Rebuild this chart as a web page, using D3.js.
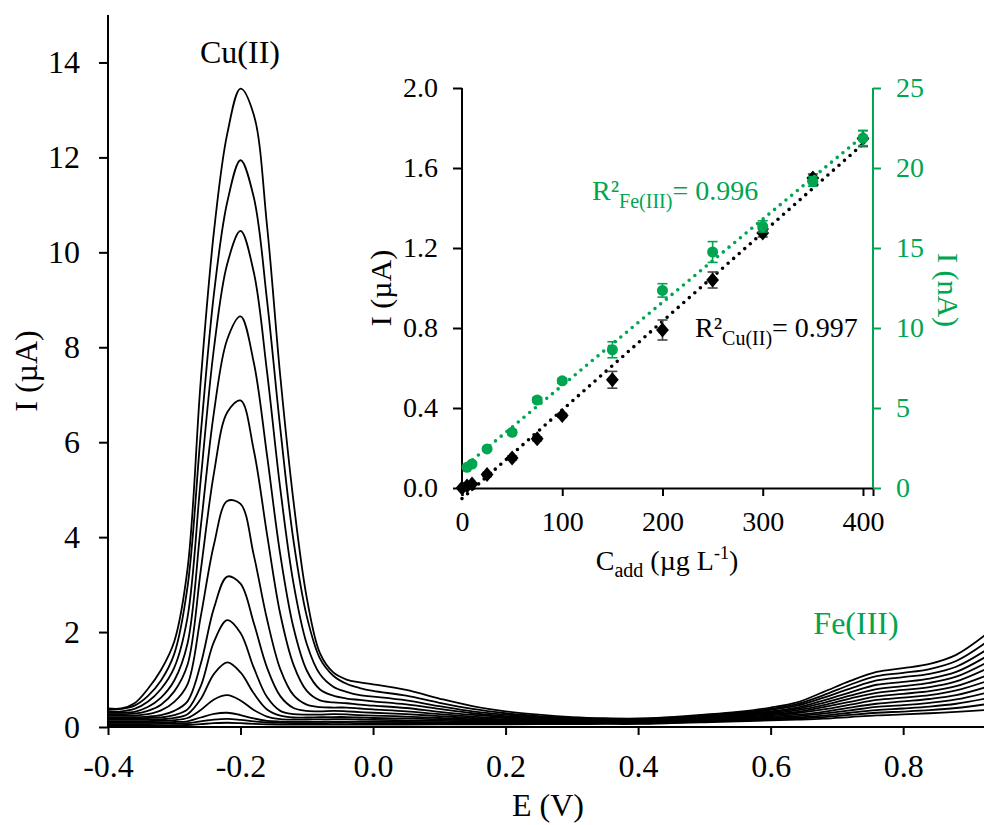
<!DOCTYPE html>
<html>
<head>
<meta charset="utf-8">
<script src="https://cdn.jsdelivr.net/npm/d3@7"></script>
<style>
  body { margin: 0; background: #fff; }
  svg { display: block; font-family: "Liberation Serif", "Times New Roman", serif; }
  .axis path, .axis line { stroke: #000; stroke-width: 2; }
  .axis text { fill: #000; }
  .green path, .green line { stroke: #00a551; }
  .green text { fill: #00a551; }
</style>
</head>
<body>
<svg id="chart" width="984" height="825"></svg>
<script>
// potential grid (V) shared by all scans
const E = [-0.40, -0.38, -0.36, -0.34, -0.32, -0.30, -0.28, -0.26, -0.24, -0.22, -0.20,
  -0.18, -0.16, -0.14, -0.12, -0.10, -0.08, -0.06, -0.04, -0.02, 0.00,
  0.05, 0.10, 0.15, 0.20, 0.25, 0.30, 0.35, 0.40,
  0.45, 0.50, 0.55, 0.60, 0.64, 0.68, 0.72, 0.76, 0.80, 0.84, 0.88, 0.925];

// current (uA), one array per standard addition, highest first
const scan13 = [.39, .39, .50, .80, 1.20, 1.80, 3.33, 7.30, 10.45, 12.50, 13.45, 12.90, 10.56, 7.39, 4.75, 2.72, 1.55, 1.15, 1.00, .94, .90,
  .78, .60, .44, .33, .26, .21, .185, .18, .21, .26, .32, .41, .52, .74, .97, 1.16, 1.24, 1.33, 1.52, 1.95];
const scan12 = [.36, .38, .45, .65, .98, 1.54, 2.95, 6.18, 9.14, 11.06, 11.94, 11.16, 8.99, 6.29, 3.92, 2.33, 1.44, 1.08, .91, .82, .76,
  .66, .51, .38, .29, .23, .19, .17, .17, .20, .245, .30, .38, .48, .67, .89, 1.07, 1.14, 1.22, 1.39, 1.78];
const scan11 = [.33, .33, .38, .53, .80, 1.25, 2.31, 5.22, 7.99, 9.76, 10.45, 9.58, 7.48, 5.02, 3.02, 1.75, 1.11, .85, .74, .67, .64,
  .56, .44, .33, .26, .21, .17, .16, .16, .19, .23, .285, .36, .45, .62, .81, .98, 1.05, 1.12, 1.27, 1.62];
const scan10 = [.30, .30, .32, .42, .62, .98, 1.76, 4.22, 6.64, 8.17, 8.65, 7.68, 5.72, 3.63, 2.09, 1.19, .79, .66, .60, .57, .54,
  .475, .38, .29, .23, .19, .17, .155, .155, .18, .22, .27, .33, .41, .56, .73, .89, .95, 1.02, 1.16, 1.48];
const scan09 = [.27, .27, .28, .34, .47, .75, 1.31, 3.30, 5.36, 6.63, 6.88, 5.83, 4.06, 2.38, 1.31, .76, .56, .52, .50, .47, .45,
  .40, .32, .255, .21, .18, .16, .15, .15, .175, .21, .255, .31, .38, .51, .66, .80, .86, .93, 1.06, 1.35];
const scan08 = [.24, .24, .24, .27, .35, .53, .90, 2.33, 3.85, 4.76, 4.70, 3.62, 2.27, 1.22, .67, .47, .42, .41, .41, .39, .37,
  .33, .27, .22, .19, .16, .15, .14, .14, .165, .20, .24, .29, .35, .46, .60, .72, .78, .84, .96, 1.22];
const scan07 = [.21, .21, .21, .22, .25, .34, .54, 1.33, 2.51, 3.17, 3.02, 2.19, 1.25, .65, .40, .34, .33, .34, .33, .315, .30,
  .27, .23, .19, .16, .15, .135, .13, .13, .155, .19, .225, .27, .32, .42, .53, .645, .70, .755, .86, 1.08];
const scan06 = [.18, .18, .18, .19, .20, .25, .37, .86, 1.80, 2.25, 1.98, 1.25, .63, .34, .27, .26, .26, .27, .265, .25, .24,
  .22, .19, .16, .145, .13, .125, .12, .12, .145, .175, .21, .25, .295, .37, .47, .57, .62, .67, .77, .96];
const scan05 = [.15, .15, .15, .155, .16, .19, .27, .59, 1.12, 1.36, 1.15, .71, .37, .24, .20, .20, .205, .21, .21, .20, .19,
  .18, .16, .14, .125, .12, .11, .11, .11, .135, .16, .19, .22, .26, .32, .41, .49, .54, .59, .67, .84];
const scan04 = [.12, .12, .12, .125, .13, .145, .19, .36, .58, .67, .56, .36, .22, .165, .155, .158, .16, .165, .165, .158, .15,
  .14, .13, .12, .11, .105, .10, .10, .10, .125, .15, .175, .20, .23, .28, .35, .425, .46, .51, .58, .72];
const scan03 = [.09, .09, .09, .09, .095, .105, .12, .20, .275, .30, .25, .18, .13, .115, .11, .11, .11, .115, .115, .112, .11,
  .105, .10, .095, .094, .092, .09, .09, .09, .11, .135, .155, .18, .20, .24, .30, .355, .39, .43, .49, .60];
const scan02 = [.06, .06, .06, .06, .065, .07, .08, .12, .155, .17, .15, .12, .095, .085, .08, .08, .08, .085, .085, .082, .08,
  .079, .078, .077, .076, .075, .075, .075, .075, .095, .115, .135, .16, .18, .21, .255, .30, .325, .355, .40, .48];
const scan01 = [.03, .03, .03, .03, .033, .037, .042, .06, .08, .09, .08, .065, .055, .05, .05, .05, .05, .052, .052, .051, .05,
  .052, .054, .056, .058, .06, .062, .064, .065, .08, .10, .12, .14, .155, .175, .21, .245, .265, .29, .32, .36];
const scans = [scan01, scan02, scan03, scan04, scan05, scan06, scan07, scan08, scan09, scan10, scan11, scan12, scan13];

const xTicks = [-0.4, -0.2, 0.0, 0.2, 0.4, 0.6, 0.8];
const yTicks = [0, 2, 4, 6, 8, 10, 12, 14];

// inset: calibration
const cAdd = [0, 5, 10, 25, 50, 75, 100, 150, 200, 250, 300, 350, 400];
const iCu = [0, 0.01, 0.02, 0.067, 0.15, 0.246, 0.363, 0.541, 0.79, 1.04, 1.275, 1.55, 1.747];
const iCuErr = [0, 0, 0.005, 0.01, 0.01, 0.01, 0.01, 0.042, 0.05, 0.04, 0.02, 0.02, 0.04];
const cAddFe = [5, 10, 25, 50, 75, 100, 150, 200, 250, 300, 350, 400];
const iFe = [1.29, 1.5, 2.44, 3.48, 5.5, 6.7, 8.64, 12.35, 14.75, 16.35, 19.16, 21.87];
const iFeErr = [0.1, 0.1, 0.1, 0.15, 0.15, 0.15, 0.5, 0.42, 0.65, 0.35, 0.3, 0.47];
const insetXTicks = [0, 100, 200, 300, 400];
const insetYTicks = [0, 0.4, 0.8, 1.2, 1.6, 2.0];
const insetY2Ticks = [0, 5, 10, 15, 20, 25];

const GREEN = "#00a551";
const svg = d3.select("#chart");

// ---------- main voltammograms ----------
const x = d3.scaleLinear().domain([-0.4, 0.922]).range([108, 984]);
const y = d3.scaleLinear().domain([0, 15]).range([727, 15]);

svg.append("clipPath").attr("id", "plotclip")
  .append("rect").attr("x", 108).attr("y", 0).attr("width", 876).attr("height", 727);

const line = d3.line()
  .x((d, i) => x(E[i]))
  .y(d => y(d))
  .curve(d3.curveCatmullRom.alpha(0.5));

svg.append("g").attr("clip-path", "url(#plotclip)")
  .selectAll("path").data(scans).join("path")
  .attr("d", line)
  .attr("fill", "none")
  .attr("stroke", "#000")
  .attr("stroke-width", 1.8);

// d3 axes set a sans-serif font on the group, drop it so the serif face applies
function styleAxis(g, size) {
  g.attr("font-family", null).attr("font-size", null);
  g.selectAll("text").attr("font-size", size);
}

const xAxis = svg.append("g").attr("class", "axis")
  .attr("transform", "translate(0,727)")
  .call(d3.axisBottom(x).tickValues(xTicks).tickSize(8).tickPadding(19)
    .tickFormat(d => d.toFixed(1)));
xAxis.select(".domain").attr("d", "M108,0H984");
styleAxis(xAxis, 32);

const yAxis = svg.append("g").attr("class", "axis")
  .attr("transform", "translate(108,0)")
  .call(d3.axisLeft(y).tickValues(yTicks).tickSize(9).tickPadding(19));
yAxis.select(".domain").attr("d", "M0,15V727");
styleAxis(yAxis, 32);

svg.append("text").attr("x", 548).attr("y", 816).attr("text-anchor", "middle")
  .attr("font-size", 32).text("E (V)");
svg.append("text").attr("transform", "translate(37,371) rotate(-90)").attr("text-anchor", "middle")
  .attr("font-size", 32).text("I (µA)");
svg.append("text").attr("x", 240).attr("y", 63).attr("text-anchor", "middle")
  .attr("font-size", 32).text("Cu(II)");
svg.append("text").attr("x", 856).attr("y", 634).attr("text-anchor", "middle")
  .attr("font-size", 32).attr("fill", GREEN).text("Fe(III)");

// ---------- inset ----------
const ix = d3.scaleLinear().domain([0, 410]).range([462, 873]);
const iy = d3.scaleLinear().domain([0, 2]).range([488, 88]);
const iy2 = d3.scaleLinear().domain([0, 25]).range([488, 88]);

const ixAxis = svg.append("g").attr("class", "axis")
  .attr("transform", "translate(0,488)")
  .call(d3.axisBottom(ix).tickValues(insetXTicks).tickSize(8).tickPadding(15));
styleAxis(ixAxis, 28);

const iyAxis = svg.append("g").attr("class", "axis")
  .attr("transform", "translate(462,0)")
  .call(d3.axisLeft(iy).tickValues(insetYTicks).tickSize(9).tickPadding(15).tickFormat(d3.format(".1f")));
iyAxis.select(".domain").attr("d", "M0,88V488");
styleAxis(iyAxis, 28);

const iy2Axis = svg.append("g").attr("class", "axis green")
  .attr("transform", "translate(873,0)")
  .call(d3.axisRight(iy2).tickValues(insetY2Ticks).tickSize(8).tickPadding(15));
iy2Axis.select(".domain").attr("d", "M0,88V488");
styleAxis(iy2Axis, 28);

// least squares line
function fit(xs, ys) {
  const mx = d3.mean(xs), my = d3.mean(ys);
  const b = d3.sum(xs, (v, i) => (v - mx) * (ys[i] - my)) / d3.sum(xs, v => (v - mx) * (v - mx));
  return [b, my - b * mx];
}

function series(xs, ys, errs, yScale, color, barColor, marker) {
  const [b, a] = fit(xs, ys);
  const x0 = d3.min(xs), x1 = d3.max(xs);
  svg.append("line")
    .attr("x1", ix(x0)).attr("y1", yScale(a + b * x0))
    .attr("x2", ix(x1)).attr("y2", yScale(a + b * x1))
    .attr("stroke", color).attr("stroke-width", 3.6)
    .attr("stroke-linecap", "round").attr("stroke-dasharray", "0 7.4");
  const g = svg.append("g");
  const bars = g.selectAll("g.err").data(xs).join("g").attr("class", "err")
    .attr("stroke", barColor).attr("stroke-width", 1.6);
  bars.append("line")
    .attr("x1", d => ix(d)).attr("x2", d => ix(d))
    .attr("y1", (d, i) => yScale(ys[i] - errs[i])).attr("y2", (d, i) => yScale(ys[i] + errs[i]));
  bars.append("line")
    .attr("x1", d => ix(d) - 5).attr("x2", d => ix(d) + 5)
    .attr("y1", (d, i) => yScale(ys[i] + errs[i])).attr("y2", (d, i) => yScale(ys[i] + errs[i]));
  bars.append("line")
    .attr("x1", d => ix(d) - 5).attr("x2", d => ix(d) + 5)
    .attr("y1", (d, i) => yScale(ys[i] - errs[i])).attr("y2", (d, i) => yScale(ys[i] - errs[i]));
  g.selectAll("path.mk").data(xs).join("path").attr("class", "mk")
    .attr("transform", (d, i) => `translate(${ix(d)},${yScale(ys[i])})`)
    .attr("d", marker)
    .attr("fill", color);
}

series(cAdd, iCu, iCuErr, iy, "#000", "#444", "M0,-7.5L6.4,0L0,7.5L-6.4,0Z");
series(cAddFe, iFe, iFeErr, iy2, GREEN, GREEN, d3.symbol(d3.symbolCircle, 95)());

// inset labels
const xl = svg.append("text").attr("x", 667).attr("y", 570).attr("text-anchor", "middle").attr("font-size", 28);
xl.append("tspan").text("C");
xl.append("tspan").attr("font-size", 20).attr("dy", 7).text("add");
xl.append("tspan").attr("dy", -7).text(" (µg L");
xl.append("tspan").attr("font-size", 18).attr("dy", -11).text("-1");
xl.append("tspan").attr("dy", 11).text(")");

svg.append("text").attr("transform", "translate(391,288) rotate(-90)").attr("text-anchor", "middle")
  .attr("font-size", 30).text("I (µA)");
svg.append("text").attr("transform", "translate(938,290) rotate(90)").attr("text-anchor", "middle")
  .attr("font-size", 30).attr("fill", GREEN).text("I (nA)");

function r2Label(xp, yp, sub, val, color) {
  const t = svg.append("text").attr("x", xp).attr("y", yp).attr("font-size", 28).attr("fill", color);
  t.append("tspan").text("R²");
  t.append("tspan").attr("font-size", 20).attr("dy", 8).text(sub);
  t.append("tspan").attr("dy", -8).text("= " + val);
}
r2Label(592, 200, "Fe(III)", "0.996", GREEN);
r2Label(695, 337, "Cu(II)", "0.997", "#000");
</script>
</body>
</html>
